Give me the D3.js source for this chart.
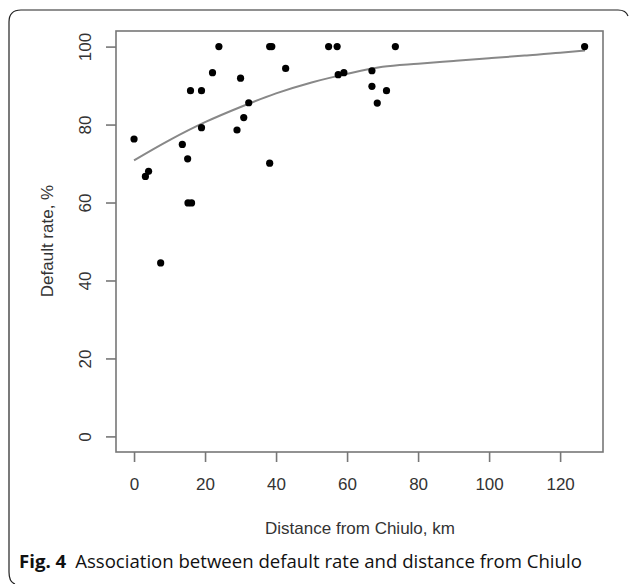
<!DOCTYPE html>
<html>
<head>
<meta charset="utf-8">
<script src="https://cdn.jsdelivr.net/npm/d3@7"></script>
<style>
  body { margin: 0; background: #fff; }
  svg { display: block; }
</style>
</head>
<body>
<div id="main"></div>
<script>
// chart size
const ctx = { width: 629, height: 584 };

// observed villages: distance from Chiulo (km) and default rate (%)
const distanceKm = [0, 3.2, 4.1, 7.5, 13.6, 15.1, 15.2, 16.2, 15.9, 19.0, 19.0, 22.1, 23.9,
  29.0, 30.0, 30.9, 32.3, 38.2, 38.8, 38.2, 42.7, 54.8, 57.2, 57.5, 59.1,
  67.0, 67.0, 68.5, 71.1, 73.6, 126.9];
const defaultRate = [76.3, 66.7, 68.0, 44.5, 74.9, 71.2, 59.9, 59.9, 88.7, 88.7, 79.2, 93.3, 100,
  78.6, 91.9, 81.8, 85.6, 100, 100, 70.1, 94.4, 100, 100, 92.8, 93.3,
  93.8, 89.8, 85.5, 88.7, 100, 100];

// smoothed fit line
const fitX = [0, 10, 20, 30, 40, 50, 60, 70, 80, 90, 100, 110, 120, 127];
const fitY = [70.8, 76.0, 80.6, 84.5, 88.0, 90.8, 93.0, 94.8, 95.6, 96.3, 97.0, 97.7, 98.4, 99.0];

const xTicks = [0, 20, 40, 60, 80, 100, 120];
const yTicks = [0, 20, 40, 60, 80, 100];

const xTitle = "Distance from Chiulo, km";
const yTitle = "Default rate, %";
const captionBold = "Fig. 4";
const captionText = "Association between default rate and distance from Chiulo";

function createViz() {
  let svg = d3.select("#main")
    .append("svg")
    .attr("width", ctx.width)
    .attr("height", ctx.height);

  // outer figure border (open on the right)
  svg.append("path")
    .attr("d", "M628,16 Q626,10 618,10 L21,10 Q9,10 9,22 L9,572 Q9,582 15,584")
    .attr("fill", "none")
    .attr("stroke", "#222")
    .attr("stroke-width", 1.2);

  let x = d3.scaleLinear().domain([-5.08, 132.08]).range([116, 603]);
  let y = d3.scaleLinear().domain([-4, 104]).range([452, 31]);

  const axisFont = "'Liberation Sans', Arial, sans-serif";
  const axisSize = 17;

  // plot box
  svg.append("rect")
    .attr("x", 116).attr("y", 31)
    .attr("width", 603 - 116).attr("height", 452 - 31)
    .attr("fill", "none")
    .attr("stroke", "#777")
    .attr("stroke-width", 1.6);

  // x axis
  let xAxis = svg.append("g")
    .attr("transform", "translate(0,452)")
    .call(d3.axisBottom(x).tickValues(xTicks).tickSize(10).tickPadding(16).tickSizeOuter(0));
  xAxis.select(".domain").remove();
  xAxis.selectAll(".tick line").attr("stroke", "#777").attr("stroke-width", 1.6);
  xAxis.selectAll(".tick text")
    .attr("font-family", axisFont).attr("font-size", axisSize).attr("fill", "#333");

  // y axis, labels rotated like base R graphics
  let yAxis = svg.append("g")
    .attr("transform", "translate(116,0)")
    .call(d3.axisLeft(y).tickValues(yTicks).tickSize(10).tickSizeOuter(0));
  yAxis.select(".domain").remove();
  yAxis.selectAll(".tick line").attr("stroke", "#777").attr("stroke-width", 1.6);
  yAxis.selectAll(".tick text")
    .attr("x", null)
    .attr("text-anchor", "middle")
    .attr("transform", "translate(-31,0) rotate(-90)")
    .attr("dy", "0.35em")
    .attr("font-family", axisFont).attr("font-size", axisSize).attr("fill", "#333");

  // axis titles
  svg.append("text")
    .attr("x", 360).attr("y", 534)
    .attr("text-anchor", "middle")
    .attr("font-family", axisFont).attr("font-size", axisSize).attr("fill", "#333")
    .text(xTitle);

  svg.append("text")
    .attr("transform", "translate(53,241) rotate(-90)")
    .attr("text-anchor", "middle")
    .attr("font-family", axisFont).attr("font-size", axisSize).attr("fill", "#333")
    .text(yTitle);

  // fitted curve
  let line = d3.line()
    .x(function(d, i) { return x(fitX[i]); })
    .y(function(d) { return y(d); })
    .curve(d3.curveMonotoneX);

  svg.append("path")
    .datum(fitY)
    .attr("d", line)
    .attr("fill", "none")
    .attr("stroke", "#888")
    .attr("stroke-width", 2);

  // points
  svg.append("g")
    .selectAll("circle")
    .data(distanceKm)
    .enter().append("circle")
    .attr("cx", function(d) { return x(d); })
    .attr("cy", function(d, i) { return y(defaultRate[i]); })
    .attr("r", 3.6)
    .attr("fill", "#000");

  // caption
  let cap = svg.append("text")
    .attr("x", 19).attr("y", 568)
    .attr("font-family", "'Open Sans', 'Noto Sans', sans-serif")
    .attr("font-size", 18.6)
    .attr("fill", "#111");
  cap.append("tspan").attr("font-weight", "bold").text(captionBold);
  cap.append("tspan").attr("dx", 9).text(captionText);
}

createViz();
</script>
</body>
</html>
